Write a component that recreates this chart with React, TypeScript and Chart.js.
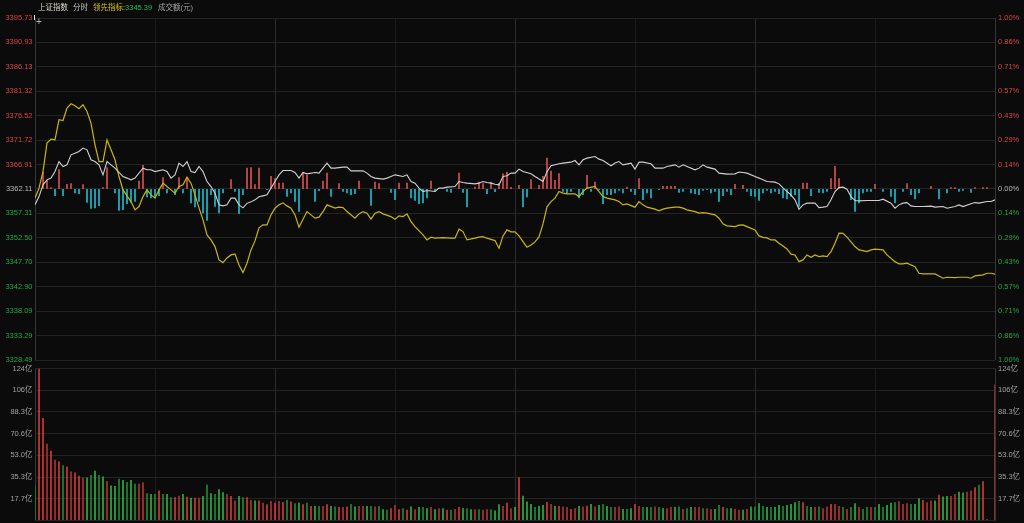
import React, { useEffect, useRef } from 'react';
import { Chart, registerables } from 'chart.js';
Chart.register(...registerables);

// ---------- data ----------
const BASE_PRICE = 3362.11;
const priceTicks = [3328.49, 3333.29, 3338.09, 3342.90, 3347.70, 3352.50, 3357.31, 3362.11, 3366.91, 3371.72, 3376.52, 3381.32, 3386.13, 3390.93, 3395.73];
const priceTickLabels = ["3328.49", "3333.29", "3338.09", "3342.90", "3347.70", "3352.50", "3357.31", "3362.11", "3366.91", "3371.72", "3376.52", "3381.32", "3386.13", "3390.93", "3395.73"];
const pctTickLabels = ["1.00%", "0.86%", "0.71%", "0.57%", "0.43%", "0.29%", "0.14%", "0.00%", "0.14%", "0.29%", "0.43%", "0.57%", "0.71%", "0.86%", "1.00%"];
const volTicks = [0, 17.66, 35.31, 52.97, 70.63, 88.29, 105.94, 123.6];
const volTickLabels = ["", "17.7亿", "35.3亿", "53.0亿", "70.6亿", "88.3亿", "106亿", "124亿"];
const timeGrid = [0, 30, 60, 90, 120, 150, 180, 210, 240];

// 上证指数 (minute index, price)
const indexLine: [number, number][] = [
  [0, 3358.99], [1, 3360.62], [2, 3362.93], [3, 3363.91], [4, 3364.25], [5, 3365.54], [6, 3367.51], [7, 3366.53], [8, 3366.86], [9, 3368.83],
  [10, 3369.16], [11, 3369.48], [12, 3370.15], [13, 3369.81], [14, 3367.85], [15, 3367.51], [16, 3366.86], [17, 3364.89], [18, 3367.51], [19, 3366.86],
  [20, 3366.21], [22, 3364.56], [23, 3364.25], [24, 3363.91], [25, 3364.25], [27, 3366.21], [28, 3365.88], [29, 3365.88], [30, 3365.54], [32, 3365.88],
  [33, 3365.54], [34, 3364.25], [35, 3364.89], [36, 3367.20], [37, 3366.53], [38, 3367.51], [39, 3365.54], [40, 3365.35], [41, 3366.53], [42, 3365.54],
  [43, 3363.58], [44, 3362.59], [45, 3361.29], [46, 3358.99], [47, 3358.79], [48, 3358.99], [49, 3360.31], [50, 3360.31], [51, 3358.99], [52, 3358.40],
  [53, 3359.29], [54, 3359.58], [55, 3359.98], [56, 3360.57], [57, 3360.76], [58, 3360.96], [59, 3362.28], [60, 3363.58], [61, 3364.89], [62, 3365.74],
  [64, 3365.74], [65, 3365.35], [66, 3364.25], [67, 3365.35], [68, 3365.09], [70, 3365.35], [71, 3365.23], [72, 3366.21], [73, 3367.20], [74, 3366.21],
  [75, 3366.21], [77, 3366.41], [78, 3366.41], [79, 3365.68], [80, 3365.68], [82, 3365.68], [83, 3365.23], [84, 3364.56], [85, 3364.25], [87, 3364.05],
  [88, 3364.25], [89, 3364.56], [90, 3364.89], [92, 3364.56], [93, 3364.89], [94, 3363.58], [95, 3363.26], [96, 3362.28], [97, 3361.61], [98, 3361.80],
  [100, 3361.61], [101, 3362.28], [102, 3362.28], [103, 3362.47], [105, 3362.59], [106, 3363.58], [107, 3363.38], [108, 3363.26], [110, 3363.12], [111, 3363.26],
  [112, 3363.58], [113, 3363.38], [114, 3363.26], [115, 3363.06], [116, 3362.93], [117, 3364.56], [118, 3364.70], [119, 3365.23], [120, 3365.23], [121, 3366.02],
  [122, 3365.54], [124, 3365.09], [125, 3364.56], [127, 3363.58], [128, 3365.49], [129, 3366.67], [131, 3367.06], [132, 3367.20], [134, 3367.39], [135, 3367.71],
  [136, 3366.86], [137, 3367.85], [138, 3368.18], [140, 3368.50], [141, 3367.98], [142, 3367.71], [144, 3366.67], [145, 3367.20], [146, 3367.51], [147, 3366.86],
  [149, 3367.20], [150, 3366.02], [151, 3367.39], [152, 3367.39], [154, 3367.06], [155, 3366.21], [157, 3366.21], [158, 3366.53], [160, 3366.86], [161, 3366.41],
  [162, 3366.86], [163, 3366.53], [165, 3365.88], [166, 3366.21], [167, 3366.86], [168, 3366.41], [170, 3366.02], [171, 3365.23], [173, 3365.03], [175, 3365.09],
  [176, 3365.43], [177, 3365.35], [178, 3365.23], [180, 3364.56], [181, 3364.25], [182, 3363.91], [183, 3363.58], [185, 3363.46], [186, 3363.12], [187, 3362.34],
  [188, 3361.61], [189, 3360.96], [190, 3359.98], [191, 3358.15], [192, 3358.99], [193, 3359.33], [195, 3359.33], [196, 3358.46], [197, 3358.54], [198, 3358.66],
  [199, 3359.98], [200, 3361.61], [201, 3362.40], [202, 3362.47], [203, 3362.08], [204, 3360.62], [205, 3359.84], [206, 3359.78], [208, 3359.84], [210, 3359.84],
  [211, 3359.84], [212, 3360.11], [214, 3359.33], [215, 3358.34], [216, 3358.99], [217, 3359.33], [218, 3359.44], [219, 3358.79], [220, 3358.66], [222, 3358.66],
  [224, 3358.74], [225, 3358.54], [227, 3358.66], [228, 3358.34], [230, 3358.66], [231, 3358.99], [232, 3358.66], [234, 3359.19], [235, 3359.44], [236, 3359.33],
  [238, 3359.64], [239, 3359.64], [240, 3359.98]
];

// 领先指标 (minute index, value)
const leadLine: [number, number][] = [
  [0, 3360.31], [1, 3362.28], [2, 3365.54], [3, 3371.13], [4, 3371.92], [5, 3371.78], [6, 3375.72], [7, 3375.58], [8, 3378.02], [9, 3378.87],
  [10, 3378.47], [11, 3377.88], [12, 3378.67], [13, 3377.35], [14, 3375.07], [15, 3370.80], [16, 3367.51], [17, 3367.51], [18, 3371.78], [19, 3369.81],
  [20, 3367.85], [21, 3364.56], [22, 3361.94], [24, 3359.64], [25, 3358.01], [26, 3358.66], [27, 3360.62], [28, 3361.94], [29, 3360.96], [30, 3360.31],
  [31, 3361.94], [32, 3363.26], [33, 3362.59], [34, 3361.94], [35, 3361.29], [36, 3362.59], [37, 3362.93], [38, 3364.44], [39, 3363.26], [40, 3360.96],
  [41, 3358.40], [42, 3356.04], [43, 3353.09], [44, 3352.10], [45, 3350.79], [46, 3348.17], [47, 3347.64], [48, 3348.56], [49, 3349.15], [50, 3349.35],
  [51, 3347.18], [52, 3345.67], [53, 3347.52], [54, 3350.14], [55, 3351.91], [56, 3354.47], [57, 3355.06], [58, 3355.06], [59, 3357.02], [60, 3358.34],
  [61, 3358.99], [62, 3359.39], [63, 3358.79], [64, 3358.34], [65, 3357.02], [66, 3354.60], [67, 3356.18], [68, 3357.67], [69, 3357.02], [70, 3356.37],
  [71, 3356.57], [72, 3357.67], [73, 3358.99], [75, 3358.34], [76, 3358.54], [77, 3358.46], [78, 3357.67], [80, 3356.37], [81, 3357.22], [82, 3357.67],
  [83, 3357.36], [84, 3356.18], [85, 3357.36], [86, 3357.67], [87, 3357.22], [89, 3356.69], [90, 3356.18], [91, 3356.83], [92, 3356.69], [93, 3357.22],
  [94, 3355.71], [95, 3354.72], [97, 3353.09], [98, 3352.10], [99, 3352.64], [100, 3352.44], [102, 3352.56], [104, 3352.44], [105, 3352.44], [106, 3354.21],
  [107, 3353.74], [108, 3352.10], [110, 3352.44], [111, 3352.64], [112, 3352.75], [113, 3352.44], [115, 3351.97], [116, 3350.47], [117, 3352.89], [118, 3354.07],
  [119, 3353.68], [120, 3353.68], [121, 3352.89], [122, 3351.77], [123, 3350.67], [124, 3351.12], [125, 3351.71], [126, 3352.69], [127, 3355.25], [128, 3358.60],
  [129, 3359.64], [130, 3360.31], [131, 3361.61], [132, 3361.29], [133, 3361.16], [135, 3361.16], [136, 3360.62], [137, 3361.61], [138, 3362.28], [140, 3362.63],
  [141, 3361.61], [142, 3360.62], [143, 3360.31], [145, 3359.98], [146, 3359.64], [147, 3358.99], [148, 3359.19], [150, 3358.54], [151, 3359.64], [152, 3358.99],
  [153, 3358.54], [155, 3358.15], [156, 3357.81], [157, 3358.15], [158, 3358.34], [160, 3358.54], [161, 3358.54], [162, 3358.34], [163, 3358.01], [165, 3357.67],
  [166, 3357.36], [167, 3357.48], [168, 3357.36], [170, 3357.02], [171, 3356.37], [172, 3355.25], [173, 3354.86], [175, 3354.72], [176, 3355.00], [177, 3355.06],
  [178, 3354.72], [180, 3354.07], [181, 3352.89], [182, 3352.60], [183, 3352.50], [184, 3352.10], [185, 3352.10], [186, 3351.45], [187, 3350.92], [188, 3350.33],
  [189, 3349.29], [190, 3349.15], [191, 3347.83], [192, 3348.17], [193, 3349.15], [194, 3348.70], [195, 3349.15], [196, 3348.82], [197, 3348.96], [198, 3348.82],
  [199, 3349.80], [200, 3351.45], [201, 3353.42], [202, 3353.38], [203, 3352.64], [205, 3350.79], [206, 3350.14], [207, 3350.00], [208, 3349.80], [209, 3350.14],
  [210, 3350.27], [212, 3350.14], [213, 3349.15], [215, 3347.83], [216, 3347.38], [217, 3347.38], [218, 3347.52], [220, 3346.85], [221, 3345.55], [222, 3345.41],
  [223, 3345.41], [225, 3345.41], [226, 3345.02], [227, 3344.57], [228, 3344.76], [230, 3344.69], [231, 3344.76], [233, 3344.76], [234, 3344.57], [235, 3345.02],
  [237, 3345.22], [238, 3345.55], [239, 3345.55], [240, 3345.39]
];

// buy / sell strength bars around the zero line (index points, per minute)
const flow = [
  0, 0, 3.40, 1.77, 0.33, -1.38, 3.88, -1.38, 0.98, 1.12,
  -0.85, -0.98, 0.92, -2.70, -3.88, -3.80, -3.35, 0.33, 4.27, 0,
  -0.85, -4.27, -4.13, -2.95, -2.70, -2.50, 1.63, 4.72, -1.63, -1.83,
  -1.52, -1.38, 2.30, -0.85, 0, -1.18, 2.30, -0.85, 2.30, -2.81,
  -3.60, -2.50, -4.78, -6.24, -1.18, -3.48, -4.78, -0.85, 0, 1.91,
  -0.53, -4.92, -1.18, 4.19, 4.27, 0.92, 4.19, 0, -0.20, 2.56,
  2.11, 1.24, 1.24, -1.52, -0.85, -2.50, -4.47, 3.21, 2.75, 0,
  -2.50, -0.39, 1.63, 3.21, -1.52, 0, 1.12, -0.53, -0.85, -1.18,
  -0.98, 1.63, 0, 0, -3.29, 1.44, 1.12, 0, 0, -0.73,
  -2.16, 1.24, 0, 1.24, -1.83, -2.30, -2.95, -2.81, -1.83, 1.63,
  -0.53, 0, 0, -0.53, -0.73, 0, 3.21, -0.73, -3.60, 0,
  0.45, 1.44, 1.12, -0.98, 1.44, -0.60, 1.20, 3.05, 3.40, 0.40,
  0, 0.79, -3.60, -1.60, 1.91, 0, 0.79, 2.56, 6.16, 3.60,
  1.77, 3.09, -0.53, -0.85, -0.53, 0, -1.83, -1.18, 2.75, -0.53,
  1.44, -0.20, -2.95, -1.18, -1.18, -0.85, -0.33, -0.85, 0.45, -0.53,
  -1.18, 2.11, -2.16, -0.85, -1.83, 0, -0.20, 0.59, 0.59, 0.59,
  0.59, -0.73, -0.53, 0, -0.85, -0.98, -1.18, -0.33, -0.20, -0.85,
  -0.53, -2.50, -1.38, -0.53, -1.18, 0.98, 0, 0.79, -0.53, -1.38,
  -1.52, -2.30, -0.85, -0.33, -0.85, -0.53, -0.98, -1.83, -2.03, -1.52,
  -1.18, -3.48, 1.24, 1.24, -1.38, 0, -0.73, -0.85, -0.53, 2.11,
  4.53, 2.11, 0, 0, -2.16, -4.47, -2.81, -0.85, -0.53, -0.53,
  0.98, 0, -0.53, 0, -1.52, -2.81, 0, -0.53, 1.12, -1.18,
  -2.03, -0.85, 0, 0, 0.59, 0, -2.03, 0, -0.85, 0.33,
  0.33, -0.53, -0.33, 0, -0.73, 0.33, 0, 0.33, 0.33, 0,
  0
];

// 成交额 (亿元, per minute)
const volume = [
  28.2, 123.6, 83.4, 62.4, 56.7, 49.4, 48.0, 45.0, 43.9, 39.8,
  39.0, 36.3, 34.9, 34.9, 36.9, 40.4, 37.1, 35.7, 32.2, 28.4,
  28.1, 33.9, 33.0, 31.4, 33.0, 29.8, 29.8, 31.2, 22.2, 21.6,
  21.6, 24.3, 21.6, 21.6, 18.9, 18.9, 20.2, 21.6, 19.4, 18.4,
  18.6, 18.6, 20.0, 29.0, 22.2, 21.6, 25.4, 23.0, 21.6, 20.0,
  16.2, 20.0, 18.9, 18.9, 16.7, 16.2, 16.2, 14.5, 13.2, 15.9,
  14.5, 15.9, 15.1, 16.7, 15.4, 14.0, 14.5, 13.2, 14.5, 11.8,
  11.8, 11.8, 11.8, 13.2, 11.8, 11.3, 11.0, 11.0, 11.3, 13.4,
  11.3, 11.8, 11.8, 11.8, 11.8, 11.3, 11.8, 9.1, 8.7, 10.0,
  12.6, 9.1, 10.0, 8.7, 11.3, 9.1, 11.0, 11.0, 10.0, 11.0,
  9.1, 10.0, 10.0, 8.7, 8.7, 9.4, 11.0, 10.0, 10.0, 9.1,
  9.1, 9.1, 8.7, 9.1, 9.1, 8.2, 13.2, 11.8, 14.5, 10.0,
  11.0, 35.2, 20.2, 15.4, 13.4, 11.0, 11.8, 12.6, 15.1, 13.4,
  11.8, 11.8, 11.3, 11.0, 9.4, 10.0, 11.8, 11.3, 12.0, 13.4,
  11.3, 12.6, 13.4, 11.8, 11.0, 11.0, 11.3, 9.4, 9.4, 10.0,
  13.4, 11.8, 11.0, 11.0, 11.0, 11.3, 11.0, 10.0, 10.0, 11.0,
  11.0, 11.3, 9.4, 10.0, 11.0, 11.0, 11.0, 10.0, 10.0, 9.4,
  9.4, 12.6, 11.0, 10.0, 10.0, 9.4, 8.7, 8.7, 9.4, 11.3,
  11.3, 14.0, 11.8, 11.0, 11.0, 11.0, 12.6, 11.8, 12.6, 13.4,
  14.8, 15.9, 14.8, 11.8, 11.0, 11.0, 11.3, 10.0, 11.3, 13.4,
  13.4, 11.8, 11.0, 9.4, 11.0, 14.0, 11.0, 9.4, 11.0, 11.0,
  11.0, 13.4, 11.0, 12.6, 14.5, 14.8, 15.6, 13.4, 14.0, 13.4,
  13.4, 18.1, 16.7, 14.8, 16.2, 16.2, 20.9, 19.5, 20.0, 20.0,
  21.5, 23.3, 22.8, 23.3, 24.4, 27.1, 29.1, 32.0, 1.0, 0,
  110.5
];
// R/G = up/down minute (bright), r/g = up/down minute (dim)
const volumeTone =
  "gRRrRrRgRr" + "RRrGgGgGrG" + "GgGgGgrrgG" + "gRgGgRrGRG" + "RrGgGgGGrR" +
  "rGgRrGRrRr" + "RrRgRgGRgR" + "GgrRGgRrRg" + "GrrGgrgGgR" + "rRgRGrGgGr" +
  "GrGRgrRGgG" + "rgrrgGGrRr" + "GRGGGgGGRr" + "GRrrRrGrRG" + "rGgGgrrGgG" +
  "RrgGgrgGrr" + "GgrgGrrgrr" + "GgRgGrrGrG" + "gGgGgGGgGG" + "GgRgGrgrrR" +
  "rrgrgGrggr" + "gGgGGgrrrg" + "GGRrrGRGGr" + "rGGrrRgRRR" + "r";

// ---------- styles ----------
const BG = '#0b0b0b';
const FONT = '"Liberation Sans", Arial, "Noto Sans CJK SC", sans-serif';
const UP = '#d94646';
const DOWN = '#22a845';
const FLAT = '#b8b8b8';
const H_GRID = '#232323';

const gridX = (ctx: any) => {
  const v = ctx.tick ? ctx.tick.value : 0;
  if (v === 0 || v === 240) return '#363636';
  return v % 60 === 0 ? '#2c2c2c' : '#1b1b1b';
};

const makeX = () => ({
  type: 'linear' as const,
  min: 0,
  max: 240,
  offset: false,
  afterBuildTicks: (s: any) => { s.ticks = timeGrid.map((v) => ({ value: v })); },
  afterFit: (s: any) => { s.height = 0; },
  ticks: { display: false },
  grid: { offset: false, drawTicks: false, color: gridX, lineWidth: 1 },
  border: { display: false },
});

const priceColor = (ctx: any) => {
  const v = ctx.tick ? ctx.tick.value : BASE_PRICE;
  if (Math.abs(v - BASE_PRICE) < 0.005) return FLAT;
  return v > BASE_PRICE ? UP : DOWN;
};

export default function App() {
  const priceRef = useRef<HTMLCanvasElement>(null);
  const volRef = useRef<HTMLCanvasElement>(null);

  useEffect(() => {
    const priceChart = new Chart(priceRef.current as HTMLCanvasElement, {
      type: 'line',
      data: {
        datasets: [
          {
            type: 'line',
            label: '上证指数',
            data: indexLine.map(([x, y]) => ({ x, y })),
            borderColor: '#d0d0d0',
            borderWidth: 1.1,
            pointRadius: 0,
            tension: 0,
            xAxisID: 'x',
            yAxisID: 'y',
          } as any,
          {
            type: 'line',
            label: '领先指标',
            data: leadLine.map(([x, y]) => ({ x, y })),
            borderColor: '#c9b70c',
            borderWidth: 1.2,
            pointRadius: 0,
            tension: 0,
            xAxisID: 'x',
            yAxisID: 'y',
          } as any,
          {
            type: 'bar',
            label: 'flow',
            data: flow.map((v, i) => ({ x: i, y: v })),
            backgroundColor: (ctx: any) => (ctx.raw && ctx.raw.y < 0 ? '#199cab' : '#b54343'),
            barThickness: 2,
            inflateAmount: 0,
            borderWidth: 0,
            xAxisID: 'x',
            yAxisID: 'yf',
          } as any,
        ],
      },
      options: {
        animation: false,
        responsive: false,
        devicePixelRatio: 1,
        events: [],
        layout: { padding: { top: 18, bottom: 8, left: 0, right: 0 } },
        plugins: { legend: { display: false }, tooltip: { enabled: false } },
        scales: {
          x: makeX() as any,
          y: {
            type: 'linear',
            position: 'left',
            min: priceTicks[0],
            max: priceTicks[priceTicks.length - 1],
            afterBuildTicks: (s: any) => { s.ticks = priceTicks.map((v) => ({ value: v })); },
            afterFit: (s: any) => { s.width = 35; },
            ticks: {
              autoSkip: false,
              padding: 2.5,
              color: priceColor,
              font: { family: FONT, size: 7.5 },
              callback: (v: any) => priceTickLabels[priceTicks.indexOf(v)] ?? '',
            },
            grid: { drawTicks: false, color: H_GRID },
            border: { display: false },
          } as any,
          y2: {
            type: 'linear',
            position: 'right',
            min: priceTicks[0],
            max: priceTicks[priceTicks.length - 1],
            afterBuildTicks: (s: any) => { s.ticks = priceTicks.map((v) => ({ value: v })); },
            afterFit: (s: any) => { s.width = 29; },
            ticks: {
              autoSkip: false,
              padding: 3,
              color: priceColor,
              font: { family: FONT, size: 7.5 },
              callback: (v: any) => pctTickLabels[priceTicks.indexOf(v)] ?? '',
            },
            grid: { display: false, drawTicks: false },
            border: { display: false },
          } as any,
          yf: { type: 'linear', display: false, min: -33.62, max: 33.62 } as any,
        },
      },
    });

    const volData = volume.map((v, i) => ({ x: i, y: v, t: volumeTone[i] }));
    const volColor = (ctx: any) => {
      const t = ctx.raw ? ctx.raw.t : 'R';
      if (t === 'R') return '#e2403e';
      if (t === 'r') return '#8c2e2e';
      if (t === 'G') return '#2fc04b';
      return '#1c7030';
    };
    const volAxisCommon = {
      type: 'linear',
      min: 0,
      max: 123.6,
      afterBuildTicks: (s: any) => { s.ticks = volTicks.map((v) => ({ value: v })); },
      ticks: {
        autoSkip: false,
        color: '#a2a2a2',
        font: { family: FONT, size: 7.5 },
        callback: (v: any) => volTickLabels[volTicks.indexOf(v)] ?? '',
      },
      border: { display: false },
    };

    const volChart = new Chart(volRef.current as HTMLCanvasElement, {
      type: 'bar',
      data: {
        datasets: [
          {
            label: '成交额',
            data: volData.filter((d) => d.t === 'R' || d.t === 'G'),
            backgroundColor: volColor,
            grouped: false,
            maxBarThickness: 1.5,
            barPercentage: 1,
            categoryPercentage: 1,
            inflateAmount: 0,
            borderWidth: 0,
            xAxisID: 'x',
            yAxisID: 'y',
          } as any,
          {
            label: '成交额 ',
            data: volData.filter((d) => d.t === 'r' || d.t === 'g'),
            backgroundColor: volColor,
            grouped: false,
            maxBarThickness: 2,
            barPercentage: 1,
            categoryPercentage: 1,
            inflateAmount: 0,
            borderWidth: 0,
            xAxisID: 'x',
            yAxisID: 'y',
          } as any,
        ],
      },
      options: {
        animation: false,
        responsive: false,
        devicePixelRatio: 1,
        events: [],
        layout: { padding: { top: 10.5, bottom: 9.5, left: 0, right: 0 } },
        plugins: { legend: { display: false }, tooltip: { enabled: false } },
        scales: {
          x: makeX() as any,
          y: {
            ...volAxisCommon,
            position: 'left',
            afterFit: (s: any) => { s.width = 35; },
            ticks: { ...volAxisCommon.ticks, padding: 2.5 },
            grid: { drawTicks: false, color: H_GRID },
          } as any,
          y2: {
            ...volAxisCommon,
            position: 'right',
            afterFit: (s: any) => { s.width = 29; },
            ticks: { ...volAxisCommon.ticks, padding: 3 },
            grid: { display: false, drawTicks: false },
          } as any,
        },
      },
    });

    return () => {
      priceChart.destroy();
      volChart.destroy();
    };
  }, []);

  const headStyle: React.CSSProperties = {
    position: 'absolute',
    top: 2,
    fontFamily: FONT,
    fontSize: 7.5,
    lineHeight: '11px',
    whiteSpace: 'nowrap',
  };

  return (
    <div style={{ position: 'fixed', left: 0, top: 0, width: 1024, height: 523, background: BG, overflow: 'hidden' }}>
      <canvas ref={priceRef} width={1024} height={368} style={{ position: 'absolute', left: 0, top: 0, width: 1024, height: 368 }} />
      <canvas ref={volRef} width={1024} height={172} style={{ position: 'absolute', left: 0, top: 358, width: 1024, height: 172 }} />
      <span style={{ ...headStyle, left: 38, color: '#ddd8c6' }}>上证指数</span>
      <span style={{ ...headStyle, left: 73, color: '#c4c4c4' }}>分时</span>
      <span style={{ ...headStyle, left: 93 }}>
        <span style={{ color: '#d2c40e' }}>领先指标:</span>
        <span style={{ color: '#2dbb4c' }}>3345.39</span>
      </span>
      <span style={{ ...headStyle, left: 158, color: '#a4a4a4' }}>成交额(元)</span>
      <span style={{ position: 'absolute', left: 36, top: 16, fontFamily: FONT, fontSize: 10, lineHeight: '12px', color: '#b8b8b8' }}>+</span>
      <div style={{ position: 'absolute', left: 33.5, top: 15, width: 1.5, height: 5, background: '#e0e0e0' }} />
    </div>
  );
}
